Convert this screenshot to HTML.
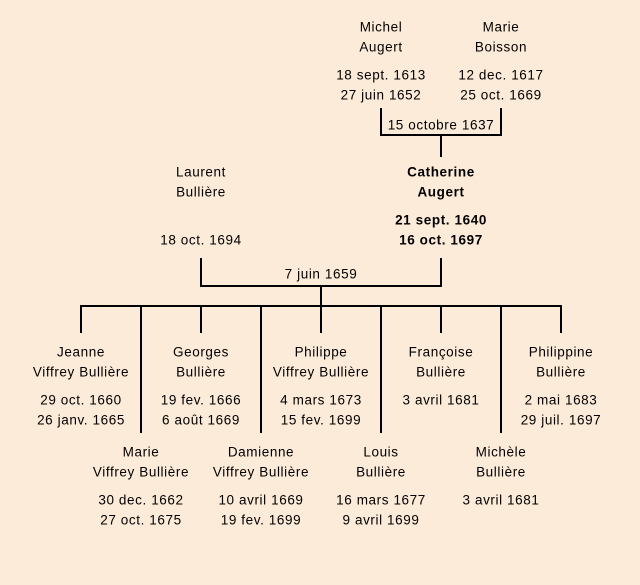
<!DOCTYPE html>
<html><head><meta charset="utf-8"><style>
html,body{margin:0;padding:0;background:#fcebd8;}
svg{display:block;}
text{font-family:"Liberation Sans",sans-serif;font-size:13.5px;letter-spacing:0.6px;fill:#000;text-anchor:middle;dominant-baseline:central;}
.b{font-weight:bold;}
</style></head><body>
<svg width="640" height="585" viewBox="0 0 640 585">
<rect width="640" height="585" fill="#fcebd8"/>
<g stroke="#000" stroke-width="2" fill="none">
<path d="M381 108V135H501V108M441 135V157"/>
<path d="M201 258V286H441V258M321 286V306"/>
<path d="M80 306H562"/>
<path d="M81 306V333M201 306V333M321 306V333M441 306V333M561 306V333"/>
<path d="M141 306V433M261 306V433M381 306V433M501 306V433"/>
</g>
<text x="381" y="27">Michel</text><text x="381" y="47">Augert</text>
<text x="381" y="75">18 sept. 1613</text><text x="381" y="95">27 juin 1652</text>
<text x="501" y="27">Marie</text><text x="501" y="47">Boisson</text>
<text x="501" y="75">12 dec. 1617</text><text x="501" y="95">25 oct. 1669</text>
<text x="441" y="125">15 octobre 1637</text>
<text x="201" y="172">Laurent</text><text x="201" y="192">Bullière</text>
<text x="201" y="240">18 oct. 1694</text>
<text class="b" x="441" y="172">Catherine</text><text class="b" x="441" y="192">Augert</text>
<text class="b" x="441" y="220">21 sept. 1640</text><text class="b" x="441" y="240">16 oct. 1697</text>
<text x="321" y="274">7 juin 1659</text>
<text x="81" y="352">Jeanne</text><text x="81" y="372">Viffrey Bullière</text>
<text x="81" y="400">29 oct. 1660</text><text x="81" y="420">26 janv. 1665</text>
<text x="201" y="352">Georges</text><text x="201" y="372">Bullière</text>
<text x="201" y="400">19 fev. 1666</text><text x="201" y="420">6 août 1669</text>
<text x="321" y="352">Philippe</text><text x="321" y="372">Viffrey Bullière</text>
<text x="321" y="400">4 mars 1673</text><text x="321" y="420">15 fev. 1699</text>
<text x="441" y="352">Françoise</text><text x="441" y="372">Bullière</text>
<text x="441" y="400">3 avril 1681</text>
<text x="561" y="352">Philippine</text><text x="561" y="372">Bullière</text>
<text x="561" y="400">2 mai 1683</text><text x="561" y="420">29 juil. 1697</text>
<text x="141" y="452">Marie</text><text x="141" y="472">Viffrey Bullière</text>
<text x="141" y="500">30 dec. 1662</text><text x="141" y="520">27 oct. 1675</text>
<text x="261" y="452">Damienne</text><text x="261" y="472">Viffrey Bullière</text>
<text x="261" y="500">10 avril 1669</text><text x="261" y="520">19 fev. 1699</text>
<text x="381" y="452">Louis</text><text x="381" y="472">Bullière</text>
<text x="381" y="500">16 mars 1677</text><text x="381" y="520">9 avril 1699</text>
<text x="501" y="452">Michèle</text><text x="501" y="472">Bullière</text>
<text x="501" y="500">3 avril 1681</text>
</svg>
</body></html>
